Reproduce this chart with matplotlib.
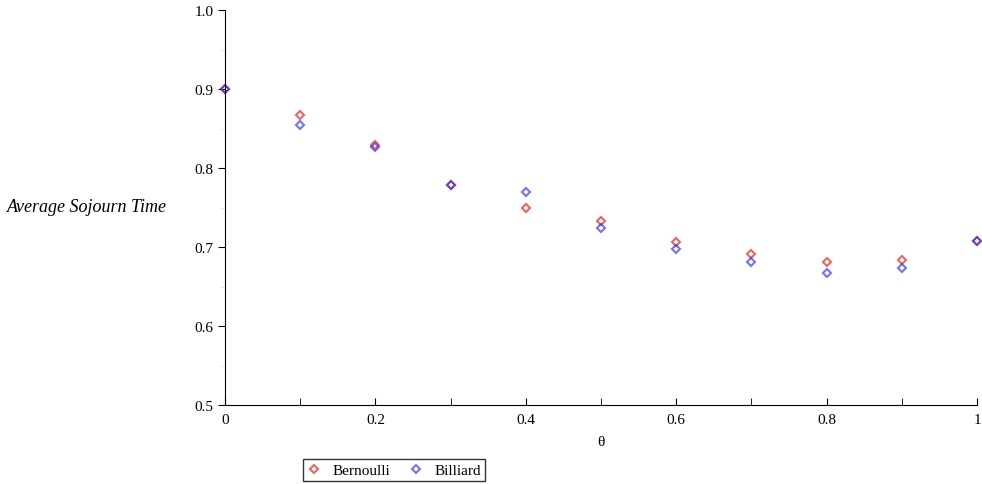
import matplotlib
matplotlib.use("Agg")
import matplotlib.pyplot as plt
from matplotlib.ticker import FixedLocator

theta = [0.0, 0.1, 0.2, 0.3, 0.4, 0.5, 0.6, 0.7, 0.8, 0.9, 1.0]
bernoulli = [0.900, 0.867, 0.829, 0.778, 0.750, 0.733, 0.706, 0.691, 0.681, 0.683, 0.708]
billiard = [0.900, 0.854, 0.826, 0.778, 0.770, 0.724, 0.698, 0.681, 0.667, 0.673, 0.708]
xtick_labels = ["0", "0.2", "0.4", "0.6", "0.8", "1"]
ytick_labels = ["0.5", "0.6", "0.7", "0.8", "0.9", "1.0"]

plt.rcParams['font.family'] = ['Liberation Serif', 'DejaVu Serif']

fig = plt.figure(figsize=(9.82, 4.85), dpi=100)
ax = fig.add_axes([225/982, 1-406/485, (977-225)/982, (406-11)/485])

ax.plot(theta, bernoulli, linestyle='none', marker='D', markersize=4.5,
        markerfacecolor='none', markeredgecolor='#e8302a', markeredgewidth=1.5,
        alpha=0.75, label='Bernoulli', clip_on=False)
ax.plot(theta, billiard, linestyle='none', marker='D', markersize=4.5,
        markerfacecolor='none', markeredgecolor='#2828f0', markeredgewidth=1.5,
        alpha=0.65, label='Billiard', clip_on=False)

ax.set_xlim(0, 1)
ax.set_ylim(0.5, 1.0)
ax.spines['top'].set_visible(False)
ax.spines['right'].set_visible(False)

ax.xaxis.set_major_locator(FixedLocator([0, 0.2, 0.4, 0.6, 0.8, 1.0]))
ax.set_xticklabels(xtick_labels)
ax.xaxis.set_minor_locator(FixedLocator([0.1, 0.3, 0.5, 0.7, 0.9]))
ax.yaxis.set_major_locator(FixedLocator([0.5, 0.6, 0.7, 0.8, 0.9, 1.0]))
ax.set_yticklabels(ytick_labels)
ax.yaxis.set_minor_locator(FixedLocator([0.55, 0.65, 0.75, 0.85, 0.95]))

ax.tick_params(axis='x', which='both', direction='in', length=5, labelsize=11, pad=6)
ax.tick_params(axis='y', which='major', direction='out', length=5, labelsize=11)
ax.tick_params(axis='y', which='minor', direction='out', length=3, color='#dddddd')

ax.set_xlabel('θ', fontsize=11, labelpad=6)
fig.text(7/982, 1-208/485, 'Average Sojourn Time', fontsize=13, style='italic',
         ha='left', va='center')

leg = fig.legend(loc='center', bbox_to_anchor=(394/982, 1-471/485), ncol=2,
                 frameon=True, fancybox=False, edgecolor='black', fontsize=11,
                 handlelength=0.9, handletextpad=0.8, columnspacing=1.2,
                 borderpad=0.25, markerscale=0.85)
leg.get_frame().set_linewidth(1.0)

fig.savefig('out.png', dpi=100)
